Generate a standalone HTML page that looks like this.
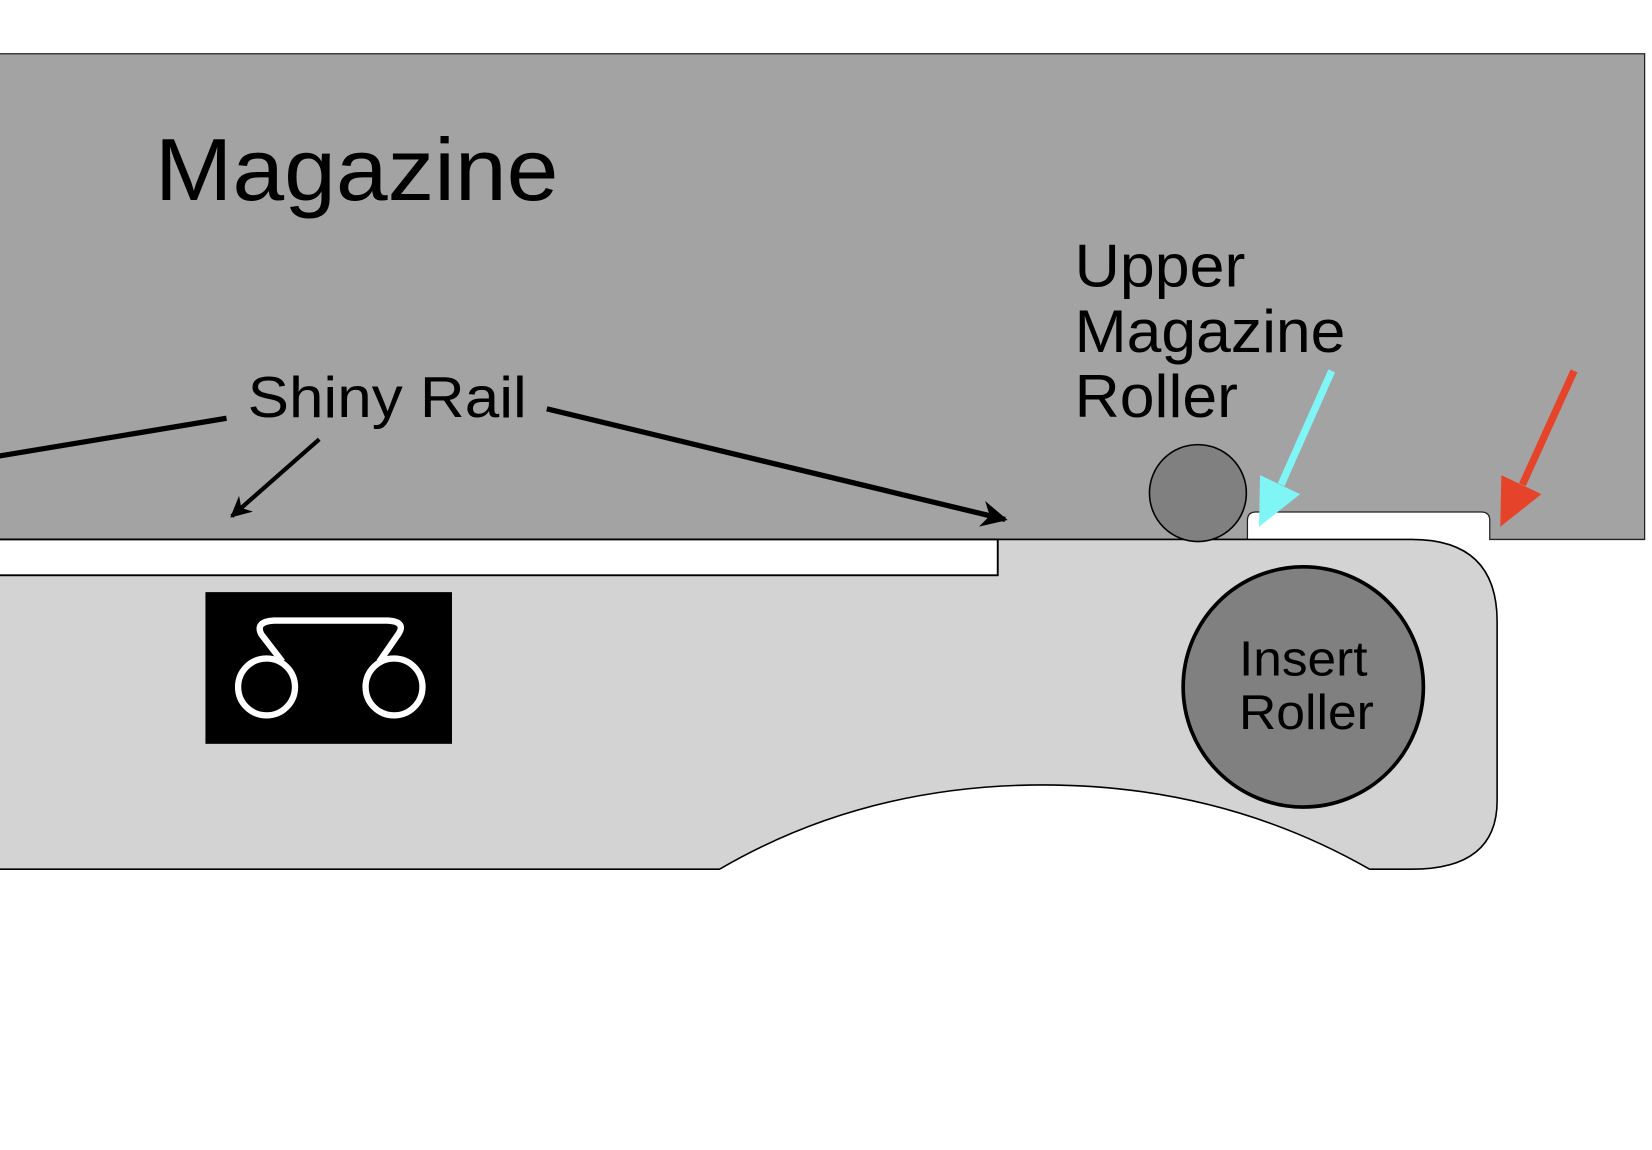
<!DOCTYPE html>
<html><head><meta charset="utf-8"><style>html,body{margin:0;padding:0;background:#fff;overflow:hidden}svg{display:block}</style></head>
<body>
<svg width="1652" height="1150" viewBox="0 0 1568 1091.5" xmlns="http://www.w3.org/2000/svg" font-family="Liberation Sans, Arial, sans-serif">
<defs>
<marker id="ah" viewBox="0 0 10 10" refX="9" refY="5" markerWidth="5" markerHeight="5" orient="auto"><path d="M0,0 L10,5 L0,10 L3,5 z" fill="#000"/></marker>
</defs>
<path d="M-2,51 H1561 V512 H1414 V494 Q1414,486 1406,486 H1192 Q1184,486 1184,494 V512 H-2 Z" fill="#a3a3a3" stroke="#222" stroke-width="1.2"/>
<text x="147" y="190" font-size="84" fill="#000" textLength="383" lengthAdjust="spacingAndGlyphs">Magazine</text>
<text x="1020" y="272" font-size="57" fill="#000" textLength="162" lengthAdjust="spacingAndGlyphs">Upper</text>
<text x="1020" y="334" font-size="57" fill="#000" textLength="257" lengthAdjust="spacingAndGlyphs">Magazine</text>
<text x="1020" y="396" font-size="57" fill="#000" textLength="155" lengthAdjust="spacingAndGlyphs">Roller</text>
<text x="235" y="396" font-size="55" fill="#000" textLength="265" lengthAdjust="spacingAndGlyphs">Shiny Rail</text>
<line x1="-2" y1="433" x2="215" y2="397" stroke="#000" stroke-width="5"/>
<line x1="303" y1="417" x2="220" y2="490" stroke="#000" stroke-width="4" marker-end="url(#ah)"/>
<line x1="519" y1="388" x2="954" y2="493" stroke="#000" stroke-width="5" marker-end="url(#ah)"/>
<path d="M-2,546 H947 V512 H1340 Q1421,512 1421,590 V760 Q1421,825 1340,825 H1300 Q1160,745 990,745 Q820,745 683,825 H-2 Z" fill="#d3d3d3" stroke="#000" stroke-width="1.5"/>
<rect x="-2" y="512" width="949" height="34" fill="#fff" stroke="#000" stroke-width="1.8"/>
<circle cx="1137" cy="468" r="46" fill="#808080" stroke="#000" stroke-width="1.5"/>
<circle cx="1237" cy="652" r="114" fill="#808080" stroke="#000" stroke-width="3.5"/>
<text x="1237" y="641" font-size="47" text-anchor="middle" fill="#000" textLength="122" lengthAdjust="spacingAndGlyphs">Insert</text>
<text x="1240" y="692" font-size="47" text-anchor="middle" fill="#000" textLength="128" lengthAdjust="spacingAndGlyphs">Roller</text>
<rect x="195" y="562" width="234" height="144" fill="#000"/>
<g fill="none" stroke="#fff" stroke-width="6">
<circle cx="253" cy="652" r="27"/>
<circle cx="374" cy="652" r="27"/>
<path d="M268,628 L248,602 Q242,590 260,589 H368 Q386,590 378,602 L360,628"/>
</g>
<line x1="1264" y1="352" x2="1216" y2="460" stroke="#7ff5f5" stroke-width="7"/>
<polygon points="1195,500 1234,469 1196,451" fill="#7ff5f5"/>
<line x1="1494" y1="352" x2="1445" y2="460" stroke="#e5432a" stroke-width="7"/>
<polygon points="1424,500 1463,469 1425,451" fill="#e5432a"/>
</svg>
</body></html>
